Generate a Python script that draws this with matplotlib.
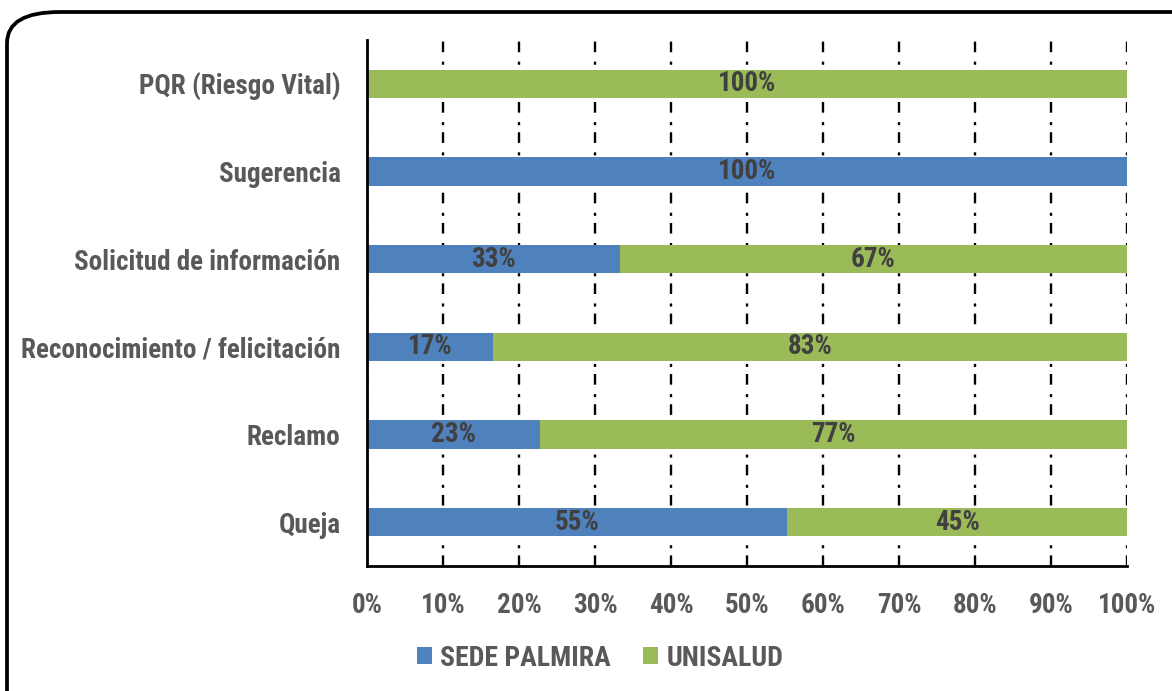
import matplotlib
matplotlib.use("Agg")
import matplotlib.pyplot as plt
from matplotlib.patches import FancyBboxPatch
import numpy as np

categories = ["Queja", "Reclamo", "Reconocimiento / felicitación",
              "Solicitud de información", "Sugerencia", "PQR (Riesgo Vital)"]
sede_palmira = [55.3, 22.8, 16.6, 33.3, 100.0, 0.0]
unisalud = [44.7, 77.2, 83.4, 66.7, 0.0, 100.0]
series_names = ["SEDE PALMIRA", "UNISALUD"]
colors = ["#4F81BD", "#9BBB59"]
xticks = list(range(0, 101, 10))

plt.rcParams['font.family'] = ['Roboto Condensed', 'Liberation Sans', 'DejaVu Sans']
plt.rcParams['font.weight'] = 'bold'

W, H = 1172, 691
fig = plt.figure(figsize=(W/100, H/100), dpi=100)
ax = fig.add_axes([367/W, 1-566/H, (1127-367)/W, (566-40)/H])

y = np.arange(len(categories))
h = 0.32
ax.barh(y, sede_palmira, height=h, color=colors[0], label=series_names[0], zorder=3)
ax.barh(y, unisalud, height=h, left=sede_palmira, color=colors[1], label=series_names[1], zorder=3)

txtc = "#404040"
FS = 19.5
for i in range(len(categories)):
    for left, val in ((0, sede_palmira[i]), (sede_palmira[i], unisalud[i])):
        if val > 0:
            ax.text(left + val/2, y[i], f"{round(val):d}%", ha="center", va="center",
                    fontsize=FS, fontweight="bold", color=txtc, zorder=4)

ax.set_xlim(0, 100)
ax.set_ylim(-0.5, len(categories) - 0.5)
ax.set_yticks(y)
ax.set_yticklabels(categories)
ax.set_xticks(xticks)
ax.set_xticklabels([f"{t}%" for t in xticks])
ax.tick_params(axis="both", length=0, labelsize=FS, labelcolor="#595959")
ax.tick_params(axis="y", pad=19)
ax.tick_params(axis="x", pad=19)
for lab in ax.get_xticklabels() + ax.get_yticklabels():
    lab.set_fontweight("bold")

ax.xaxis.grid(True, color="black", linewidth=1.7, linestyle=(0, (4.5, 3, 1.3, 4)), zorder=1)
ax.set_axisbelow(True)
for s in ["top", "right"]:
    ax.spines[s].set_visible(False)
for s in ["left", "bottom"]:
    ax.spines[s].set_linewidth(2)
    ax.spines[s].set_color("black")
    ax.spines[s].set_zorder(5)

leg = fig.legend(loc="center", bbox_to_anchor=(600/W, 1-658/H), ncol=2, frameon=False,
                 prop={"size": 20, "weight": "bold"}, handlelength=0.55, handleheight=0.55,
                 columnspacing=1.15, handletextpad=0.3)
for t in leg.get_texts():
    t.set_color("#595959")

border = FancyBboxPatch((7/W, -0.2), 1.3, 1 - 12/H + 0.2,
                        boxstyle="round,pad=0,rounding_size=0.045",
                        transform=fig.transFigure, fill=False, edgecolor="black",
                        linewidth=2.7, clip_on=False)
fig.patches.append(border)

fig.savefig("out.png", dpi=100)
